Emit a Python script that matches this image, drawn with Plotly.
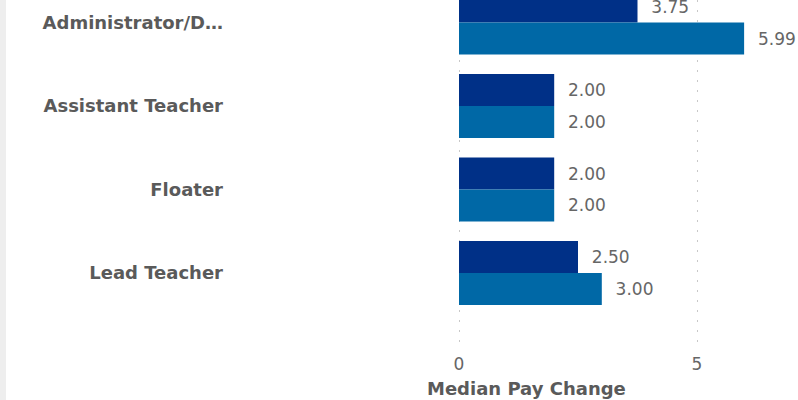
import plotly.graph_objects as go

categories = ["Administrator/D…", "Assistant Teacher", "Floater", "Lead Teacher"]
series_a_name = "Previous"
series_a = [3.75, 2.00, 2.00, 2.50]
series_b_name = "Current"
series_b = [5.99, 2.00, 2.00, 3.00]
x_ticks = [0, 5]
x_title = "Median Pay Change"

W, H = 798, 400
ML, MB = 457, 54
PX_PER_UNIT = 47.6
X0 = -2 / PX_PER_UNIT
FONT = "DejaVu Sans, Liberation Sans, Arial"

fig = go.Figure()
for name, vals, color in [(series_a_name, series_a, "#003087"),
                          (series_b_name, series_b, "#0068a6")]:
    fig.add_trace(go.Bar(
        y=categories, x=vals, name=name, orientation="h",
        marker=dict(color=color, line=dict(width=0)),
        text=vals, texttemplate="\u00a0\u00a0%{x:.2f}",
        textposition="outside", cliponaxis=False,
        textfont=dict(family=FONT, size=17, color="#666666"),
        hoverinfo="skip",
    ))

fig.update_layout(
    width=W, height=H,
    margin=dict(l=ML, r=0, t=0, b=MB, pad=0),
    barmode="group", bargap=0.235, bargroupgap=0,
    plot_bgcolor="white", paper_bgcolor="white",
    showlegend=False,
    font=dict(family=FONT, color="#666666"),
)
fig.update_xaxes(
    range=[X0, X0 + (W - ML) / PX_PER_UNIT],
    tickvals=x_ticks, ticktext=[str(t) for t in x_ticks],
    showgrid=True, gridcolor="#c8c8c8", gridwidth=1, griddash="2px,8px",
    zeroline=False, showline=False, ticks="",
    tickfont=dict(family=FONT, size=17, color="#666666"), ticklabelstandoff=6,
)
fig.update_yaxes(
    type="category", categoryorder="array", categoryarray=categories,
    range=[3.875, -0.27],
    showgrid=False, zeroline=False, showline=False, ticks="",
    tickfont=dict(family=FONT, size=18, color="#5a5a5a", weight="bold"),
    ticklabelstandoff=233,
)
fig.add_annotation(
    text="<b>" + x_title + "</b>", xref="paper", yref="paper",
    x=(526 - ML) / (W - ML), y=-(389 - (H - MB)) / (H - MB),
    xanchor="center", yanchor="middle", showarrow=False,
    font=dict(family=FONT, size=18, color="#5a5a5a"),
)
fig.add_shape(type="rect", xref="paper", yref="paper",
              x0=-ML / (W - ML), x1=-(ML - 6) / (W - ML), y0=-MB / (H - MB), y1=1,
              fillcolor="#eeeeee", line=dict(width=0), layer="below")

fig.write_html("out.html", config={"displayModeBar": False, "staticPlot": True},
               post_script="document.body.style.margin='0';document.body.style.overflow='hidden';")
